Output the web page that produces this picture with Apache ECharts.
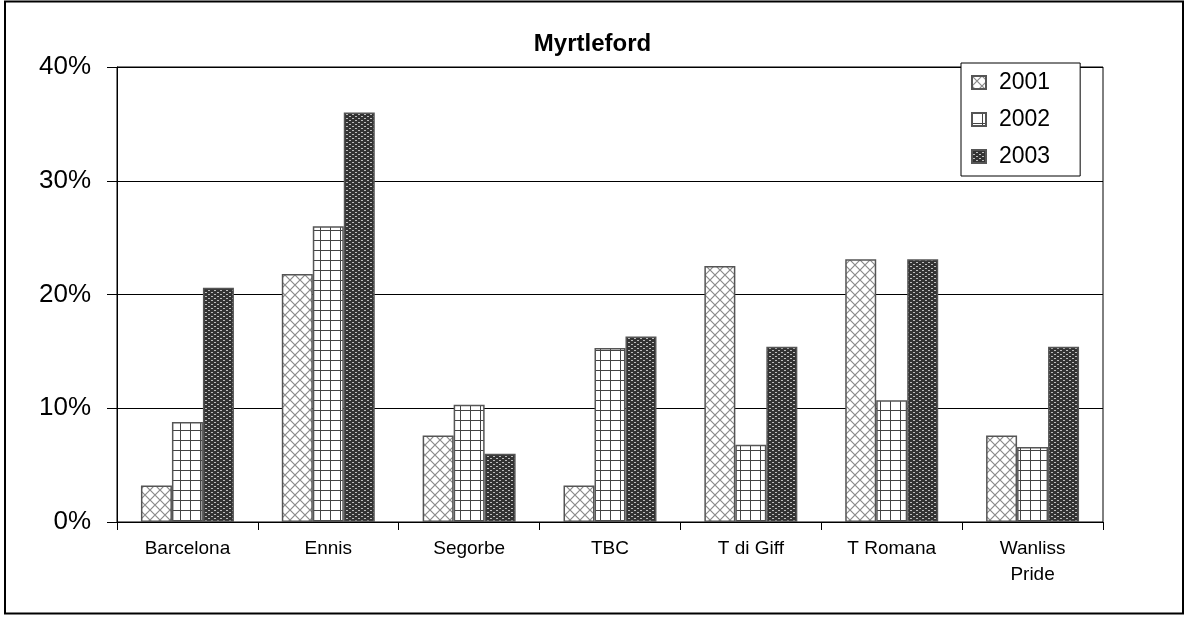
<!DOCTYPE html>
<html>
<head>
<meta charset="utf-8">
<script src="https://cdn.jsdelivr.net/npm/echarts@6/dist/echarts.min.js"></script>
<style>
  html, body { margin: 0; padding: 0; background: #fff; }
  #main { width: 1185px; height: 617px; }
</style>
</head>
<body>
<div id="main"></div>
<script>
const categories = ['Barcelona', 'Ennis', 'Segorbe', 'TBC', 'T di Giff', 'T Romana', 'Wanliss\nPride'];
const years = ['2001', '2002', '2003'];
const values2001 = [3.2, 21.8, 7.6, 3.2, 22.5, 23.1, 7.6];
const values2002 = [8.8, 26.0, 10.3, 15.3, 6.8, 10.7, 6.6];
const values2003 = [20.6, 36.0, 6.0, 16.3, 15.4, 23.1, 15.4];

// hatch patterns like the old excel fills
function makeTile(w, h, draw) {
    const c = document.createElement('canvas');
    c.width = w;
    c.height = h;
    draw(c.getContext('2d'), w, h);
    return c;
}

const diamond = makeTile(10, 10, function(ctx, w, h) {
    ctx.fillStyle = '#fff';
    ctx.fillRect(0, 0, w, h);
    ctx.strokeStyle = '#8a8a8a';
    ctx.lineWidth = 1.2;
    ctx.beginPath();
    ctx.moveTo(0, 0); ctx.lineTo(w, h);
    ctx.moveTo(w, 0); ctx.lineTo(0, h);
    ctx.stroke();
});

const grid = makeTile(10, 10, function(ctx, w, h) {
    ctx.fillStyle = '#fff';
    ctx.fillRect(0, 0, w, h);
    ctx.fillStyle = '#444';
    ctx.fillRect(0, 0, w, 1);
    ctx.fillRect(0, 0, 1, h);
});

const dots = makeTile(6, 4, function(ctx, w, h) {
    ctx.fillStyle = '#333';
    ctx.fillRect(0, 0, w, h);
    ctx.fillStyle = '#bdbdbd';
    ctx.fillRect(1, 0, 2, 1);
    ctx.fillRect(4, 2, 2, 1);
});

const fills = [diamond, grid, dots];
const borders = ['#555', '#555', '#555'];
const seriesValues = [values2001, values2002, values2003];

const chart = echarts.init(document.getElementById('main'));

const option = {
    backgroundColor: '#fff',
    animation: false,
    title: {
        text: 'Myrtleford',
        left: 'center',
        top: 27,
        textStyle: {
            fontFamily: 'Liberation Sans, Arial',
            fontSize: 24,
            fontWeight: 'bold',
            color: '#000'
        }
    },
    legend: {
        orient: 'vertical',
        left: 961,
        top: 63,
        padding: [8, 30, 8, 10],
        itemGap: 14,
        itemWidth: 14,
        itemHeight: 13,
        icon: 'rect',
        borderColor: '#000',
        borderWidth: 1,
        backgroundColor: '#fff',
        textStyle: {
            fontFamily: 'Liberation Sans, Arial',
            fontSize: 23,
            lineHeight: 23,
            padding: [0, 0, 0, 8],
            color: '#000'
        },
        data: years
    },
    grid: {
        left: 117,
        right: 82,
        top: 67,
        bottom: 95,
        show: true,
        borderColor: '#000',
        borderWidth: 1
    },
    xAxis: {
        type: 'category',
        data: categories,
        axisLine: { lineStyle: { color: '#000', width: 1 } },
        axisTick: { show: true, inside: false, length: 8, lineStyle: { color: '#000' } },
        axisLabel: {
            margin: 14,
            fontFamily: 'Liberation Sans, Arial',
            fontSize: 19,
            color: '#000',
            lineHeight: 26
        }
    },
    yAxis: {
        type: 'value',
        min: 0,
        max: 40,
        interval: 10,
        axisLine: { show: true, lineStyle: { color: '#000' } },
        axisTick: { show: true, length: 10, lineStyle: { color: '#000' } },
        splitLine: { lineStyle: { color: '#000', width: 1 } },
        axisLabel: {
            formatter: '{value}%',
            margin: 26,
            fontFamily: 'Liberation Sans, Arial',
            fontSize: 26,
            color: '#000'
        }
    },
    series: years.map(function(y, i) {
        return {
            name: y,
            type: 'bar',
            data: seriesValues[i],
            barGap: '0%',
            barCategoryGap: '34%',
            itemStyle: {
                color: { image: fills[i], repeat: 'repeat' },
                borderColor: borders[i],
                borderWidth: 1.5
            }
        };
    }),
    graphic: [{
        type: 'rect',
        shape: { x: 5, y: 1.5, width: 1178, height: 612 },
        style: { fill: 'none', stroke: '#000', lineWidth: 2 },
        silent: true
    }]
};

chart.setOption(option);
</script>
</body>
</html>
